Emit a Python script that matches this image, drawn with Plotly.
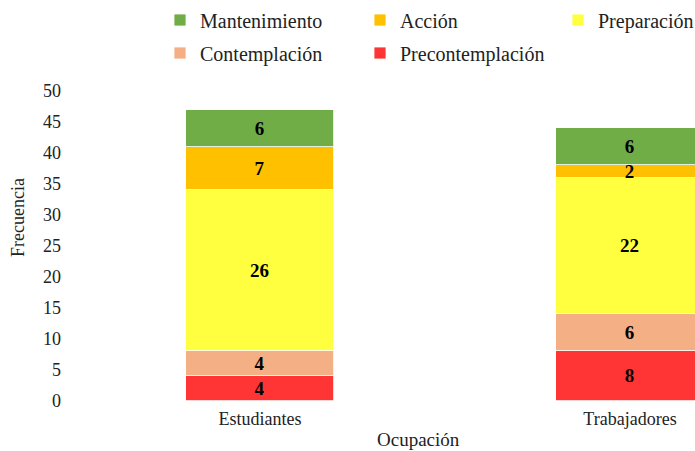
import plotly.graph_objects as go

# Data
ocupaciones = ["Estudiantes", "Trabajadores"]
etapas = ["Precontemplación", "Contemplación", "Preparación", "Acción", "Mantenimiento"]
precontemplacion = [4, 8]
contemplacion = [4, 6]
preparacion = [26, 22]
accion = [7, 2]
mantenimiento = [6, 6]
y_ticks = [0, 5, 10, 15, 20, 25, 30, 35, 40, 45, 50]

series = [precontemplacion, contemplacion, preparacion, accion, mantenimiento]
colores = ["#FF3535", "#F4B084", "#FFFF40", "#FFC000", "#70AD47"]

W, H = 695, 451
ML, MR, MT, MB = 68, 0, 91, 50
FONT = "Liberation Serif, Times New Roman, serif"

# legend slot for each stage: (legend id, text start px, row centre px)
legend_slots = {
    "Mantenimiento": ("legend", 200, 20),
    "Acción": ("legend2", 400, 20),
    "Preparación": ("legend3", 598, 20),
    "Contemplación": ("legend4", 200, 53),
    "Precontemplación": ("legend5", 400, 53),
}

fig = go.Figure()
for nombre, vals, color in zip(etapas, series, colores):
    fig.add_trace(go.Bar(
        name=nombre,
        x=ocupaciones,
        y=vals,
        width=0.4,
        marker=dict(color=color, line=dict(color="white", width=0.8)),
        text=vals,
        texttemplate="<b>%{text}</b>",
        textposition="inside",
        insidetextanchor="middle",
        textangle=0,
        constraintext="none",
        textfont=dict(family=FONT, size=19, color="black"),
        legend=legend_slots[nombre][0],
        hoverinfo="skip",
    ))

# x range so that categories sit 370 px apart with Estudiantes centred at 260 px
plot_w = W - ML - MR
px_per_cat = 370
x0 = -(260 - ML) / px_per_cat
x1 = x0 + plot_w / px_per_cat

fig.update_layout(
    width=W, height=H,
    margin=dict(l=ML, r=MR, t=MT, b=MB, autoexpand=False),
    paper_bgcolor="white", plot_bgcolor="white",
    barmode="stack",
    bargap=0,
    font=dict(family=FONT, color="#222222"),
    showlegend=True,
    xaxis=dict(
        range=[x0, x1],
        showgrid=False, zeroline=False, showline=False, ticks="",
        tickfont=dict(family=FONT, size=18, color="#222222"),
        ticklabelstandoff=5,
        fixedrange=True,
    ),
    yaxis=dict(
        range=[0, 50],
        tickvals=y_ticks,
        showgrid=False, zeroline=False, showline=False, ticks="",
        tickfont=dict(family=FONT, size=18, color="#222222"),
        ticklabelstandoff=6,
        fixedrange=True,
    ),
)

for nombre, (lid, tx, ty) in legend_slots.items():
    fig.update_layout({lid: dict(
        xref="container", yref="container",
        x=(tx - 40) / W, y=1 - ty / H,
        xanchor="left", yanchor="middle",
        orientation="h",
        font=dict(family=FONT, size=20, color="#222222"),
        bgcolor="rgba(0,0,0,0)",
        borderwidth=0,
    )})

plot_h = H - MT - MB
fig.add_annotation(
    text="Frecuencia", textangle=-90,
    xref="paper", yref="paper",
    x=(18 - ML) / plot_w, y=(H - MB - 218) / plot_h,
    xanchor="center", yanchor="middle", showarrow=False,
    font=dict(family=FONT, size=18, color="#222222"),
)
fig.add_annotation(
    text="Ocupación",
    xref="paper", yref="paper",
    x=(418 - ML) / plot_w, y=(H - MB - 439) / plot_h,
    xanchor="center", yanchor="middle", showarrow=False,
    font=dict(family=FONT, size=19, color="#222222"),
)

fig.write_html("out.html")
